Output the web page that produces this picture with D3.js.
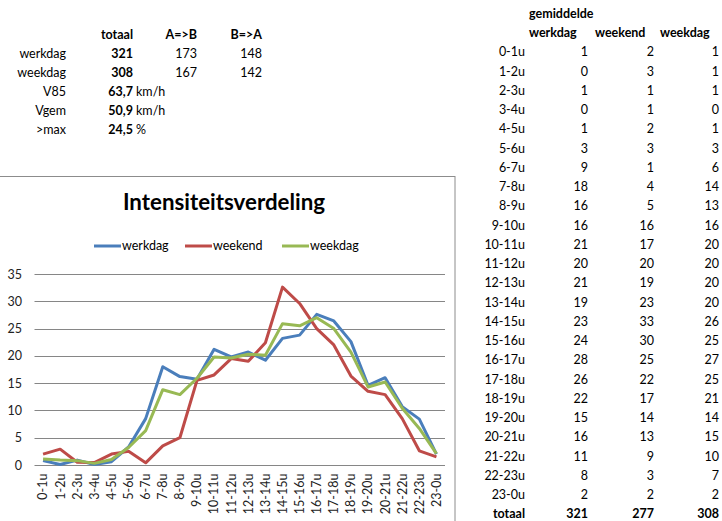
<!DOCTYPE html>
<html>
<head>
<meta charset="utf-8">
<script src="https://cdn.jsdelivr.net/npm/d3@7"></script>
<style>
  html, body { margin: 0; padding: 0; background: #fff; }
  svg { display: block; font-family: Lato, "Open Sans", sans-serif; }
</style>
</head>
<body>
<svg id="chart" width="722" height="521"></svg>
<script>
// ---------- data ----------
const hours = ["0-1u","1-2u","2-3u","3-4u","4-5u","5-6u","6-7u","7-8u","8-9u","9-10u","10-11u","11-12u",
               "12-13u","13-14u","14-15u","15-16u","16-17u","17-18u","18-19u","19-20u","20-21u","21-22u","22-23u","23-0u"];
const seriesNames = ["werkdag", "weekend", "weekdag"];
// values plotted in the chart (unrounded)
const werkdagLine = [0.8,0.1,0.9,0.1,0.6,3.3,8.5,18.0,16.2,15.7,21.2,19.8,20.7,19.2,23.2,23.8,27.6,26.4,22.6,14.6,16.0,10.7,8.4,2.0];
const weekendLine = [2.0,2.9,0.5,0.45,2.0,2.5,0.4,3.5,5.0,15.5,16.5,19.5,19.0,22.4,32.6,29.6,25.0,22.0,16.3,13.5,12.9,8.5,2.6,1.5];
const weekdagLine = [1.1,0.9,0.8,0.3,1.0,3.2,6.3,13.8,12.9,15.9,19.8,19.6,20.3,20.1,25.9,25.5,27.0,25.0,20.7,14.3,15.2,10.4,6.7,2.1];
// rounded values in the table on the right
const werkdagTable = [1,0,1,0,1,3,9,18,16,16,21,20,21,19,23,24,28,26,22,15,16,11,8,2];
const weekendTable = [2,3,1,1,2,3,1,4,5,16,17,20,19,23,33,30,25,22,17,14,13,9,3,2];
const weekdagTable = [1,1,1,0,1,3,6,14,13,16,20,20,20,20,26,25,27,25,21,14,15,10,7,2];
const tableTotals = [321, 277, 308];
// summary table top-left
const summaryHeaders = ["totaal", "A=>B", "B=>A"];
const summaryRows = ["werkdag", "weekdag"];
const summaryTotal = [321, 308];
const summaryAtoB = [173, 167];
const summaryBtoA = [148, 142];
const speedLabels = ["V85", "Vgem", ">max"];
const speedValues = ["63,7", "50,9", "24,5"];
const speedUnits = ["km/h", "km/h", "%"];
const yTicks = [0, 5, 10, 15, 20, 25, 30, 35];
const chartTitle = "Intensiteitsverdeling";

const colors = { werkdag: "#4a7ebb", weekend: "#be4b48", weekdag: "#98b954" };
const lineData = { werkdag: werkdagLine, weekend: weekendLine, weekdag: weekdagLine };

const svg = d3.select("#chart");
const FS = 12.5;

// ---------- top-left summary table ----------
const rowY = i => 16 + i * 19.0;
const tl = svg.append("g").attr("font-size", FS).attr("fill", "#000");
const colRight = [133, 197, 262];
summaryHeaders.forEach((h, j) => {
  tl.append("text").attr("x", colRight[j]).attr("y", rowY(1)).attr("dy", "0.35em")
    .attr("text-anchor", "end").attr("font-weight", "bold").text(h);
});
summaryRows.forEach((r, i) => {
  const y = rowY(2 + i);
  tl.append("text").attr("x", 66).attr("y", y).attr("dy", "0.35em").attr("text-anchor", "end").text(r);
  tl.append("text").attr("x", colRight[0]).attr("y", y).attr("dy", "0.35em").attr("text-anchor", "end")
    .attr("font-weight", "bold").text(summaryTotal[i]);
  tl.append("text").attr("x", colRight[1]).attr("y", y).attr("dy", "0.35em").attr("text-anchor", "end").text(summaryAtoB[i]);
  tl.append("text").attr("x", colRight[2]).attr("y", y).attr("dy", "0.35em").attr("text-anchor", "end").text(summaryBtoA[i]);
});
speedLabels.forEach((r, i) => {
  const y = rowY(4 + i);
  tl.append("text").attr("x", 66).attr("y", y).attr("dy", "0.35em").attr("text-anchor", "end").text(r);
  tl.append("text").attr("x", colRight[0]).attr("y", y).attr("dy", "0.35em").attr("text-anchor", "end")
    .attr("font-weight", "bold").text(speedValues[i]);
  tl.append("text").attr("x", 136).attr("y", y).attr("dy", "0.35em").text(speedUnits[i]);
});

// ---------- right table ----------
const rt = svg.append("g").attr("font-size", FS).attr("fill", "#000");
const rRowY = i => 13.5 + i * 19.25;
rt.append("text").attr("x", 529).attr("y", rRowY(0)).attr("dy", "0.35em").attr("font-weight", "bold").text("gemiddelde");
const hdrX = [529, 595, 660];
seriesNames.forEach((s, j) => {
  rt.append("text").attr("x", hdrX[j]).attr("y", rRowY(1)).attr("dy", "0.35em").attr("font-weight", "bold").text(s);
});
const valRight = [588, 654, 719];
const tables = [werkdagTable, weekendTable, weekdagTable];
hours.forEach((h, i) => {
  const y = rRowY(2 + i);
  rt.append("text").attr("x", 525).attr("y", y).attr("dy", "0.35em").attr("text-anchor", "end").text(h);
  tables.forEach((t, j) => {
    rt.append("text").attr("x", valRight[j]).attr("y", y).attr("dy", "0.35em").attr("text-anchor", "end").text(t[i]);
  });
});
{
  const y = rRowY(2 + hours.length);
  rt.append("text").attr("x", 525).attr("y", y).attr("dy", "0.35em").attr("text-anchor", "end")
    .attr("font-weight", "bold").text("totaal");
  tableTotals.forEach((v, j) => {
    rt.append("text").attr("x", valRight[j]).attr("y", y).attr("dy", "0.35em").attr("text-anchor", "end")
      .attr("font-weight", "bold").text(v);
  });
}

// ---------- chart ----------
svg.append("rect").attr("x", -1).attr("y", 176.5).attr("width", 456).attr("height", 360)
  .attr("fill", "#fff").attr("stroke", "#8c8c8c").attr("stroke-width", 1);

svg.append("text").attr("x", 224).attr("y", 209.5).attr("text-anchor", "middle")
  .attr("font-size", 22.3).attr("font-weight", "bold").attr("fill", "#000").text(chartTitle);

const x = d3.scaleBand().domain(hours).range([34.5, 445]);
const y = d3.scaleLinear().domain([0, 35]).range([465, 274]);

// gridlines
svg.append("g").selectAll("line").data(yTicks).join("line")
  .attr("x1", 34.5).attr("x2", 445)
  .attr("y1", d => Math.round(y(d)) + 0.5).attr("y2", d => Math.round(y(d)) + 0.5)
  .attr("stroke", "#868686").attr("stroke-width", 1);

// y axis labels
const yAxis = d3.axisLeft(y).tickValues(yTicks).tickSize(0).tickPadding(0);
const gy = svg.append("g").attr("transform", "translate(22,0)").call(yAxis);
gy.select(".domain").remove();
gy.selectAll("text").attr("font-size", FS).attr("font-family", "Lato, sans-serif").attr("fill", "#222");

// x axis labels
const xAxis = d3.axisBottom(x).tickSize(0).tickPadding(0);
const gx = svg.append("g").attr("transform", "translate(0,465)").call(xAxis);
gx.select(".domain").remove();
gx.selectAll("text")
  .attr("font-size", FS).attr("font-family", "Lato, sans-serif").attr("fill", "#222")
  .attr("transform", "rotate(-90)")
  .attr("x", -8.5).attr("y", 0).attr("dy", "0.35em")
  .attr("text-anchor", "end");

// lines
const line = d3.line().x((d, i) => x(hours[i]) + x.bandwidth() / 2).y(d => y(d));
seriesNames.forEach(s => {
  svg.append("path").datum(lineData[s]).attr("d", line)
    .attr("fill", "none").attr("stroke", colors[s]).attr("stroke-width", 3)
    .attr("stroke-linejoin", "round");
});

// legend
const legX = [94, 185, 282];
const lg = svg.append("g");
seriesNames.forEach((s, j) => {
  lg.append("line").attr("x1", legX[j]).attr("x2", legX[j] + 27).attr("y1", 246).attr("y2", 246)
    .attr("stroke", colors[s]).attr("stroke-width", 3);
  lg.append("text").attr("x", legX[j] + 28).attr("y", 246).attr("dy", "0.35em")
    .attr("font-size", FS).attr("fill", "#000").text(s);
});
</script>
</body>
</html>
